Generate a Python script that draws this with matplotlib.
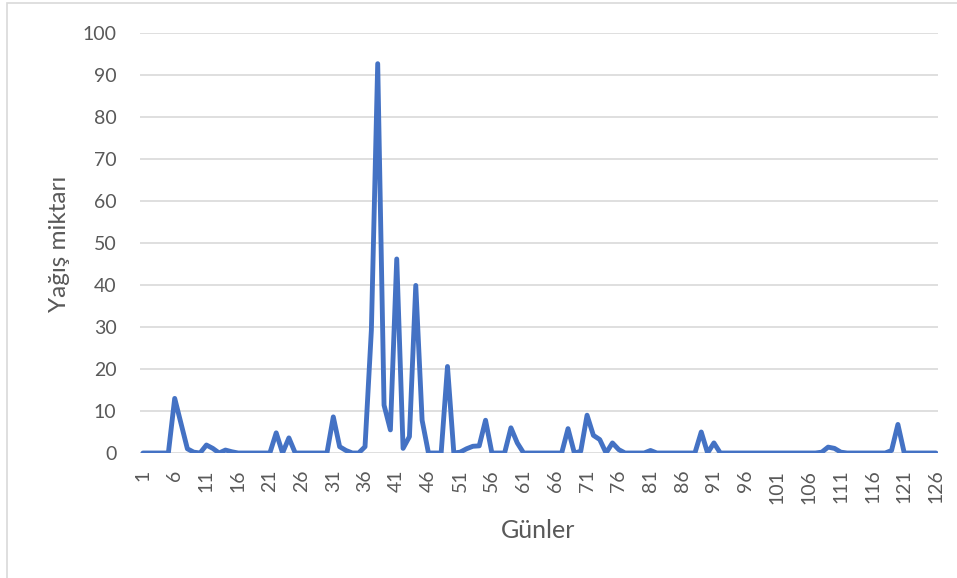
import matplotlib
matplotlib.use("Agg")
import matplotlib.pyplot as plt
from matplotlib.patches import Rectangle

days = list(range(1, 127))
rain = [
    0, 0, 0, 0, 0, 13.0, 7.0, 1.0, 0.2, 0,          # 1-10
    1.9, 1.1, 0, 0.7, 0.3, 0, 0, 0, 0, 0,           # 11-20
    0, 4.8, 0, 3.6, 0, 0, 0, 0, 0, 0,               # 21-30
    8.6, 1.5, 0.6, 0, 0, 1.5, 29.2, 92.7, 11.4, 5.5,  # 31-40
    46.2, 1.1, 3.9, 39.9, 7.8, 0, 0, 0, 20.6, 0,    # 41-50
    0.2, 1.0, 1.6, 1.7, 7.8, 0, 0, 0, 6.0, 2.4,     # 51-60
    0, 0, 0, 0, 0, 0, 0, 5.8, 0, 0.4,               # 61-70
    9.0, 4.2, 3.2, 0, 2.4, 0.8, 0, 0, 0, 0,         # 71-80
    0.6, 0, 0, 0, 0, 0, 0, 0, 5.0, 0,               # 81-90
    2.4, 0, 0, 0, 0, 0, 0, 0, 0, 0,                 # 91-100
    0, 0, 0, 0, 0, 0, 0, 0.2, 1.4, 1.1,             # 101-110
    0.2, 0, 0, 0, 0, 0, 0, 0, 0.6, 6.8,             # 111-120
    0, 0, 0, 0, 0, 0,                               # 121-126
]
xtick_labels = [str(d) for d in range(1, 127, 5)]
yticks = list(range(0, 101, 10))
ylabel = "Yağış miktarı"
xlabel = "Günler"

plt.rcParams['font.family'] = ['Lato', 'DejaVu Sans']

fig = plt.figure(figsize=(9.57, 5.78), dpi=100)
ax = fig.add_axes([140/957, 1-453/578, (938-140)/957, (453-33)/578])

ax.plot(days, rain, color='#4472C4', linewidth=3.5,
        solid_joinstyle='round', solid_capstyle='round', zorder=3)

ax.set_xlim(0.53, 126.32)
ax.set_ylim(0, 100)
ax.set_yticks(yticks)
ax.set_xticks(list(range(1, 127, 5)))
ax.set_xticklabels(xtick_labels, rotation=90, va='top', ha='center')
ax.grid(axis='y', color='#d9d9d9', linewidth=1.2, zorder=0)
ax.set_axisbelow(True)
for s in ax.spines.values():
    s.set_visible(False)
ax.tick_params(axis='both', length=0, labelsize=14, colors='#595959')
ax.tick_params(axis='y', pad=17)
ax.tick_params(axis='x', pad=12)

fig.text(59/957, 1-244/578, ylabel, rotation=90, ha='center', va='center',
         fontsize=17.5, color='#595959')
fig.text(538/957, 1-530/578, xlabel, ha='center', va='center',
         fontsize=18, color='#595959')

fig.patches.append(Rectangle((7.5/957, -0.05), 1.2, 1.05 - 3.5/578,
                             transform=fig.transFigure, fill=False,
                             edgecolor='#d9d9d9', linewidth=1.2))

assert len(rain) == len(days)
fig.savefig("out.png", dpi=100)
